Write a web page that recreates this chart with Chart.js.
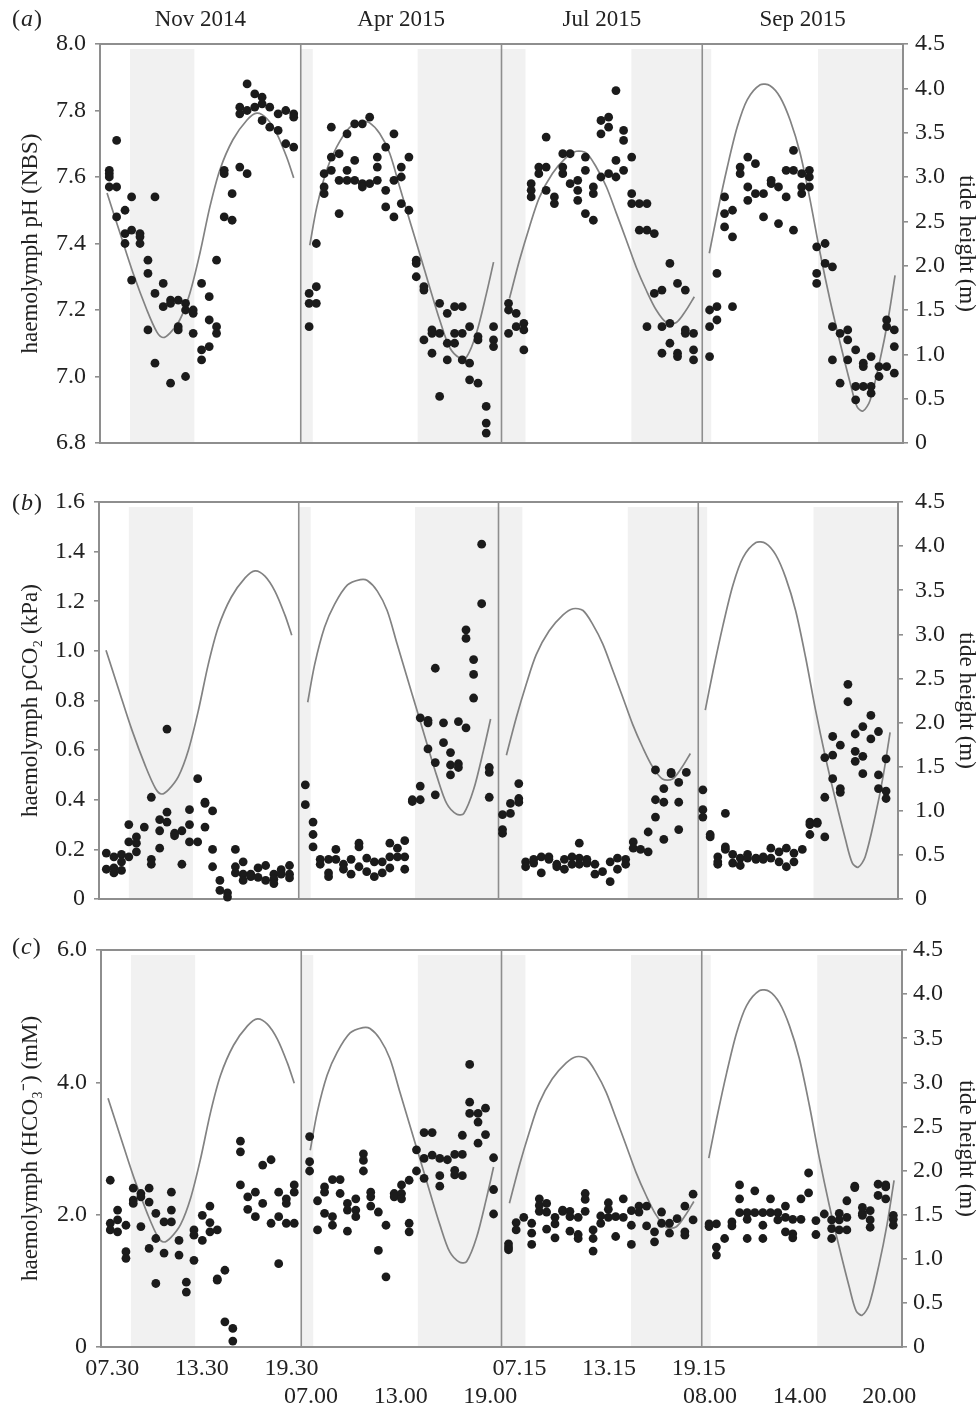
<!DOCTYPE html>
<html>
<head>
<meta charset="utf-8">
<script src="https://cdn.jsdelivr.net/npm/chart.js@4.4.1/dist/chart.umd.min.js"></script>
<style>
  body { margin: 0; background: #fff; }
  #wrap { position: relative; width: 980px; height: 1405px; }
  canvas { position: absolute; left: 0; }
</style>
</head>
<body>
<div id="wrap">
  <canvas id="panelA" width="980" height="475" style="top:0"></canvas>
  <canvas id="panelB" width="980" height="475" style="top:460px"></canvas>
  <canvas id="panelC" width="980" height="485" style="top:920px"></canvas>
</div>
<script>
// sampling days and clock time (h) at the left edge of each day's strip
const segments = ['Nov 2014', 'Apr 2015', 'Jul 2015', 'Sep 2015'];
const segStart = [6.75, 6.35, 6.05, 7.45];
const SPAN = 13.4;

const tickHours = [[7.5, 13.5, 19.5], [7, 13, 19], [7.25, 13.25, 19.25], [8, 14, 20]];
const tickLabels = [['07.30', '13.30', '19.30'], ['07.00', '13.00', '19.00'],
                    ['07.15', '13.15', '19.15'], ['08.00', '14.00', '20.00']];

// shaded periods, clock hours
const nightBands = [
  [[8.75, 13.05]],
  [[6.35, 7.15], [14.15, 19.75]],
  [[6.05, 7.65], [14.72, 19.45]],
  [[7.45, 8.05], [15.18, 20.85]]
];

// tide height (m): [time, height]
const tideNov = [[7.22,2.82],[8.08,2.37],[8.95,1.92],[9.88,1.50],[10.55,1.25],[10.95,1.19],[11.42,1.24],[12.08,1.39],[12.75,1.69],[13.42,2.14],[14.08,2.66],[14.75,3.08],[15.62,3.42],[16.55,3.64],[17.22,3.72],[17.88,3.66],[18.55,3.49],[19.22,3.22],[19.68,2.99]];
const tideApr = [[6.95,2.23],[7.42,2.66],[8.08,3.08],[8.75,3.34],[9.62,3.56],[10.48,3.62],[10.95,3.61],[11.62,3.49],[12.28,3.27],[12.95,2.89],[13.62,2.51],[14.28,2.14],[14.95,1.76],[15.62,1.39],[16.28,1.08],[16.95,0.96],[17.42,0.97],[18.08,1.24],[18.75,1.69],[19.22,2.04]];
const tideJul = [[6.58,1.63],[7.25,2.06],[7.92,2.44],[8.58,2.77],[9.45,3.04],[10.38,3.22],[11.05,3.29],[11.72,3.27],[12.38,3.11],[13.05,2.89],[13.72,2.59],[14.38,2.29],[15.05,1.98],[15.72,1.72],[16.38,1.50],[17.05,1.36],[17.72,1.36],[18.38,1.50],[18.92,1.65]];
const tideSep = [[7.92,2.14],[8.45,2.59],[9.12,3.11],[9.78,3.56],[10.45,3.87],[11.32,4.04],[11.98,4.03],[12.65,3.90],[13.32,3.64],[13.98,3.27],[14.65,2.74],[15.32,2.14],[15.98,1.61],[16.65,1.13],[17.32,0.68],[17.78,0.41],[18.18,0.36],[18.65,0.48],[19.32,0.94],[19.85,1.39],[20.32,1.89]];
const tides = [tideNov, tideApr, tideJul, tideSep];

// haemolymph values: [time, value, value, ...]
const phNov = [[7.37,7.62,7.61,7.60,7.57],[7.86,7.71,7.57,7.48],[8.42,7.50,7.43,7.40],[8.86,7.54,7.44,7.29],[9.42,7.43,7.42,7.40],[9.95,7.14,7.35,7.31],[10.42,7.54,7.25,7.04],[10.97,7.28,7.21],[11.46,7.23,7.22,6.98],[11.97,7.23,7.15,7.14],[12.46,7.22,7.20,7.00],[12.97,7.20,7.19,7.13],[13.53,7.28,7.08,7.05],[14.04,7.24,7.17,7.09],[14.53,7.35,7.15,7.13],[15.04,7.62,7.61,7.48],[15.57,7.55,7.47],[16.08,7.81,7.79,7.63],[16.57,7.88,7.80,7.61],[17.08,7.85,7.81],[17.57,7.84,7.82,7.77],[18.08,7.81,7.75],[18.64,7.79,7.74],[19.15,7.80,7.70],[19.68,7.79,7.78,7.69]];
const phApr = [[6.91,7.25,7.22,7.15],[7.39,7.40,7.27,7.22],[7.91,7.61,7.57,7.55],[8.39,7.75,7.66,7.62],[8.91,7.67,7.59,7.49],[9.44,7.73,7.62,7.59],[9.95,7.76,7.65,7.59],[10.46,7.76,7.58,7.57],[10.95,7.78,7.58],[11.46,7.66,7.63,7.59],[12.02,7.69,7.56,7.51],[12.57,7.73,7.59,7.48],[13.06,7.63,7.60,7.52],[13.57,7.66,7.50],[14.06,7.35,7.34,7.30],[14.57,7.27,7.26,7.11],[15.11,7.14,7.13,7.07],[15.62,7.22,7.13,6.94],[16.13,7.19,7.10,7.05],[16.62,7.21,7.13,7.10],[17.13,7.21,7.13,7.05],[17.62,7.15,7.04,6.99],[18.18,7.12,7.11,6.98],[18.73,6.91,6.86,6.83],[19.22,7.15,7.11,7.09]];
const phJul = [[6.52,7.22,7.20,7.13],[7.03,7.19,7.15],[7.54,7.16,7.14,7.08],[8.03,7.58,7.56,7.54],[8.54,7.63,7.61],[9.03,7.72,7.63,7.56],[9.58,7.54,7.52],[10.14,7.67,7.63,7.61],[10.63,7.67,7.58],[11.14,7.59,7.56,7.53],[11.65,7.66,7.62,7.49],[12.18,7.57,7.55,7.47],[12.69,7.77,7.73,7.60],[13.20,7.78,7.75,7.61],[13.69,7.86,7.65,7.60],[14.20,7.74,7.71,7.62],[14.74,7.66,7.55,7.52],[15.25,7.52,7.44],[15.76,7.52,7.44,7.15],[16.25,7.43,7.25],[16.76,7.26,7.15,7.07],[17.29,7.34,7.16,7.10],[17.80,7.28,7.07,7.06],[18.32,7.26,7.14,7.13],[18.87,7.13,7.08,7.05]];
const phSep = [[7.94,7.20,7.15,7.06],[8.43,7.31,7.21,7.17],[8.94,7.54,7.49,7.45],[9.47,7.50,7.42,7.21],[9.98,7.63,7.61],[10.49,7.66,7.57,7.53],[11.00,7.64,7.55],[11.54,7.55,7.48],[12.05,7.59,7.58],[12.54,7.57,7.46],[13.05,7.62,7.54],[13.54,7.68,7.62,7.44],[14.09,7.61,7.57,7.55],[14.60,7.62,7.60,7.57],[15.09,7.39,7.31,7.28],[15.65,7.40,7.34],[16.14,7.33,7.15,7.05],[16.65,7.13,6.98],[17.16,7.14,7.11,7.05],[17.69,7.08,6.97,6.93],[18.20,7.04,7.03,6.97],[18.72,7.06,6.97,6.95],[19.25,7.03,7.00],[19.76,7.17,7.15,7.03],[20.27,7.14,7.09,7.01]];

const pco2Nov = [[7.24,0.185,0.12],[7.75,0.17,0.125,0.105],[8.26,0.18,0.15,0.115],[8.75,0.30,0.23,0.17],[9.26,0.25,0.225,0.19],[9.79,0.29],[10.26,0.41,0.16,0.14],[10.82,0.32,0.275,0.205],[11.31,0.685,0.35,0.31],[11.82,0.265,0.255],[12.31,0.275,0.14],[12.82,0.36,0.30,0.23],[13.37,0.485,0.23],[13.86,0.39,0.385,0.29],[14.37,0.355,0.20,0.13],[14.86,0.075,0.035],[15.37,0.025,0.008],[15.90,0.20,0.13,0.105],[16.42,0.15,0.10,0.075],[16.93,0.10,0.09],[17.42,0.125,0.087],[17.93,0.135,0.075],[18.48,0.10,0.08,0.062],[18.97,0.118,0.10],[19.53,0.135,0.10,0.085]];
const pco2Apr = [[6.79,0.46,0.38],[7.31,0.31,0.26,0.21],[7.79,0.16,0.14],[8.35,0.16,0.105,0.09],[8.84,0.20,0.16],[9.35,0.14,0.12],[9.86,0.16,0.10],[10.39,0.225,0.21,0.13],[10.91,0.165,0.11],[11.42,0.15,0.09],[11.95,0.15,0.105],[12.46,0.225,0.17,0.125],[12.97,0.205,0.17],[13.46,0.235,0.17,0.12],[13.97,0.40,0.393],[14.50,0.73,0.455,0.40],[15.02,0.72,0.71,0.605],[15.51,0.93,0.55,0.42],[16.06,0.71,0.63],[16.53,0.59,0.54,0.50],[17.06,0.715,0.545,0.53],[17.57,1.085,1.05,0.69],[18.08,0.965,0.905,0.81],[18.62,1.43,1.19],[19.13,0.53,0.51,0.41]];
const pco2Jul = [[6.32,0.34,0.28,0.265],[6.85,0.385,0.345],[7.41,0.465,0.405,0.39],[7.87,0.15,0.13],[8.41,0.16,0.145],[8.92,0.17,0.105],[9.43,0.17,0.16],[9.96,0.14,0.13],[10.47,0.16,0.12],[10.98,0.17,0.14],[11.47,0.225,0.165,0.14],[11.98,0.16,0.145],[12.52,0.14,0.10],[13.03,0.11],[13.54,0.15,0.07],[14.03,0.165,0.12],[14.58,0.16,0.14],[15.09,0.23,0.205],[15.58,0.20],[16.09,0.27,0.19],[16.58,0.52,0.40,0.33],[17.14,0.445,0.39,0.24],[17.63,0.51,0.505],[18.14,0.47,0.39,0.28],[18.65,0.51]];
const pco2Sep = [[7.76,0.44,0.36,0.33],[8.25,0.26,0.25],[8.76,0.17,0.15,0.14],[9.27,0.345,0.21,0.20],[9.76,0.18,0.145],[10.27,0.165,0.135],[10.76,0.18,0.165],[11.32,0.165,0.16],[11.81,0.17,0.16],[12.32,0.205,0.165],[12.87,0.19,0.15],[13.36,0.205,0.13],[13.87,0.185,0.15],[14.43,0.20],[14.94,0.31,0.30,0.26],[15.43,0.31,0.305],[15.94,0.57,0.41,0.25],[16.47,0.655,0.58,0.485],[16.98,0.62,0.445,0.43],[17.49,0.865,0.795],[17.98,0.665,0.595,0.555],[18.49,0.695,0.575,0.505],[19.03,0.74,0.645],[19.54,0.675,0.50,0.445],[20.05,0.565,0.435,0.405]];

const hco3Nov = [[7.37,2.52,1.87,1.77],[7.86,2.07,1.92,1.74],[8.42,1.84,1.44,1.34],[8.91,2.40,2.22,2.17],[9.42,2.32,2.27,1.82],[9.97,2.40,2.19,1.49],[10.42,2.02,1.64,0.96],[10.97,1.89,1.42],[11.46,2.34,2.07,1.89],[11.97,1.61,1.39],[12.46,0.98,0.83],[12.97,1.77,1.69,1.31],[13.53,1.99,1.61],[14.04,2.13,1.88,1.74],[14.53,1.77,1.03,1.01],[15.04,1.16,0.38],[15.57,0.28,0.09],[16.08,3.11,2.95,2.45],[16.57,2.27,2.08],[17.08,2.34,1.97],[17.57,2.75,2.17],[18.13,2.83,1.87],[18.64,2.34,1.97,1.26],[19.15,2.24,2.17,1.87],[19.68,2.45,2.34,1.87]];
const hco3Apr = [[6.91,3.18,2.80,2.66],[7.44,2.21,1.77],[7.91,2.42,2.34,2.02],[8.44,2.53,1.97,1.84],[8.95,2.53,2.32],[9.44,2.17,2.07,1.75],[10.00,2.24,2.07,1.97],[10.51,2.92,2.82,2.66],[11.00,2.34,2.27,2.13],[11.51,2.04,1.46],[12.02,1.84,1.06],[12.57,2.32,2.27],[13.06,2.45,2.32,2.24],[13.57,2.52,1.87,1.74],[14.06,2.98,2.66],[14.57,3.24,2.85,2.55],[15.11,3.24,2.90],[15.62,2.85,2.59,2.43],[16.13,2.83],[16.62,2.91,2.67,2.60],[17.13,3.20,2.91,2.59],[17.62,4.27,3.70,3.53],[18.18,3.53,3.40,3.08],[18.68,3.61,3.21],[19.22,2.86,2.38,2.01]];
const hco3Jul = [[6.52,1.56,1.51,1.47],[7.03,1.88,1.77],[7.54,1.96],[8.07,1.87,1.72,1.55],[8.58,2.24,2.14,2.05],[9.07,2.17,2.04,1.78],[9.63,1.96,1.86,1.65],[10.14,2.07,2.05],[10.63,2.05,1.97,1.75],[11.18,1.96,1.70,1.64],[11.65,2.32,2.23,2.05],[12.18,1.77,1.64,1.45],[12.69,1.98,1.87],[13.20,2.18,2.08,1.96],[13.69,1.97,1.67],[14.20,2.24,1.96],[14.74,2.06,1.84,1.55],[15.25,2.13,2.04],[15.76,2.13,1.83],[16.29,1.74,1.59],[16.76,2.04,1.87],[17.29,1.87,1.72],[17.80,1.94],[18.32,2.13,1.74,1.69],[18.87,2.31,1.92]];
const hco3Sep = [[7.94,1.86,1.82],[8.43,1.86,1.51,1.39],[8.98,1.64],[9.47,1.89,1.83],[9.98,2.45,2.24,2.03],[10.49,2.03,1.93,1.64],[11.00,2.36,2.03],[11.54,2.03,1.84,1.64],[12.05,2.24,2.03],[12.54,2.03,1.92],[13.05,2.13,1.96,1.74],[13.54,1.93,1.71,1.65],[14.09,2.24,1.93],[14.60,2.63,2.33],[15.09,1.91,1.70],[15.65,2.01],[16.14,1.92,1.79,1.64],[16.65,2.02,1.92,1.77],[17.16,2.21,1.96,1.77],[17.69,2.43,2.41],[18.20,2.11,2.02,1.99],[18.72,2.06,1.92,1.81],[19.25,2.46,2.29],[19.76,2.45,2.42,2.24],[20.27,1.99,1.93,1.84]];

Chart.defaults.font.family = '"Liberation Serif", "Times New Roman", serif';
Chart.defaults.color = '#222';

const AXIS = '#8e8e8e';
const toX = (k, t) => k * SPAN + t - segStart[k];
const toPoints = (cols, k) => cols.flatMap(([t, ...vs]) => vs.map(v => ({ x: toX(k, t), y: v })));
const fmt = v => v === 0 ? '0' : v.toFixed(1);

const xTicks = tickHours.flatMap((hs, k) => hs.map(h => toX(k, h)));
const xTickText = tickLabels.flatMap((ls, k) => ls.map(l => k % 2 === 0 ? [l, ''] : ['', l]));

// shaded periods, day separators and the panel letter
const backdrop = {
  id: 'backdrop',
  beforeDraw(chart) {
    const { ctx, chartArea: a, scales: { x } } = chart;
    ctx.save();
    ctx.fillStyle = '#f1f1f1';
    nightBands.forEach((bands, k) => bands.forEach(([t0, t1]) => {
      const x0 = Math.max(a.left, x.getPixelForValue(toX(k, t0)));
      const x1 = Math.min(a.right, x.getPixelForValue(toX(k, t1)));
      ctx.fillRect(x0, a.top + 5, x1 - x0, a.bottom - a.top - 5);
    }));
    ctx.strokeStyle = AXIS;
    ctx.lineWidth = 1.6;
    for (let k = 1; k < segments.length; k++) {
      const px = x.getPixelForValue(k * SPAN);
      ctx.beginPath();
      ctx.moveTo(px, a.top);
      ctx.lineTo(px, a.bottom);
      ctx.stroke();
    }
    ctx.restore();
  },
  afterDraw(chart, args, opts) {
    const ctx = chart.ctx;
    ctx.save();
    ctx.fillStyle = '#222';
    ctx.textBaseline = 'middle';
    let x = 12;
    ctx.font = '24px "Liberation Serif"';
    ctx.fillText('(', x, opts.letterY);
    x += ctx.measureText('(').width + 1;
    ctx.font = 'italic 24px "Liberation Serif"';
    ctx.fillText(opts.letter, x, opts.letterY);
    x += ctx.measureText(opts.letter).width + 1;
    ctx.font = '24px "Liberation Serif"';
    ctx.fillText(')', x, opts.letterY);
    ctx.restore();
  }
};

function buildPanel(id, p) {
  const canvas = document.getElementById(id);
  const datasets = [{
    data: p.series.flatMap((cols, k) => toPoints(cols, k)),
    yAxisID: 'y',
    backgroundColor: '#1b1b1b',
    borderColor: '#1b1b1b',
    pointRadius: 4.4,
    pointBorderWidth: 0,
    clip: false
  }].concat(tides.map((s, k) => ({
    data: s.map(([t, h]) => ({ x: toX(k, t), y: h })),
    yAxisID: 'y2',
    showLine: true,
    pointRadius: 0,
    borderColor: '#828282',
    borderWidth: 1.7,
    tension: 0.3
  })));

  return new Chart(canvas, {
    type: 'scatter',
    data: { datasets },
    options: {
      responsive: false,
      animation: false,
      layout: { padding: 0 },
      plugins: {
        legend: { display: false },
        tooltip: { enabled: false },
        backdrop: { letter: p.letter, letterY: p.letterY }
      },
      scales: {
        x: {
          type: 'linear', position: 'bottom', min: 0, max: SPAN * segments.length,
          grid: { display: false, drawTicks: false },
          border: { color: AXIS, width: 2 },
          afterBuildTicks: s => { s.ticks = xTicks.map(v => ({ value: v })); },
          ticks: {
            display: p.showTimes, autoSkip: false, maxRotation: 0, padding: 7,
            font: { size: 24 }, callback: (v, i) => xTickText[i]
          },
          afterFit: s => { s.height = canvas.height - p.bottom; }
        },
        x2: {
          type: 'linear', position: 'top', min: 0, max: SPAN * segments.length,
          grid: { display: false, drawTicks: false },
          border: { color: AXIS, width: 2 },
          afterBuildTicks: s => { s.ticks = segments.map((_, k) => ({ value: k * SPAN + SPAN / 2 })); },
          ticks: {
            display: p.showMonths, autoSkip: false, maxRotation: 0, padding: 10,
            font: { size: 23 }, callback: (v, i) => segments[i]
          },
          afterFit: s => { s.height = p.top; }
        },
        y: {
          position: 'left', min: p.yMin, max: p.yMax,
          ticks: { stepSize: p.yStep, padding: 9, font: { size: 24 }, callback: fmt },
          grid: { drawOnChartArea: false, tickLength: 5, color: AXIS, lineWidth: 1.6 },
          border: { color: AXIS, width: 2 },
          title: { display: true, text: p.yTitle, font: { size: 23 }, padding: { top: 17, bottom: 0 } },
          afterFit: s => { s.width = p.left; }
        },
        y2: {
          position: 'right', min: 0, max: 4.5,
          ticks: { stepSize: 0.5, padding: p.rightPad, font: { size: 24 }, callback: fmt },
          grid: { drawOnChartArea: false, tickLength: 5, color: AXIS, lineWidth: 1.6 },
          border: { color: AXIS, width: 2 },
          title: { display: true, text: 'tide height (m)', font: { size: 23 }, padding: { top: 0, bottom: 0 } },
          afterFit: s => { s.width = canvas.width - p.right; }
        }
      }
    },
    plugins: [backdrop]
  });
}

buildPanel('panelA', {
  series: [phNov, phApr, phJul, phSep], letter: 'a', letterY: 20,
  yMin: 6.8, yMax: 8.0, yStep: 0.2, yTitle: 'haemolymph pH (NBS)',
  top: 44, bottom: 443, left: 100, right: 903, rightPad: 7,
  showMonths: true, showTimes: false
});
buildPanel('panelB', {
  series: [pco2Nov, pco2Apr, pco2Jul, pco2Sep], letter: 'b', letterY: 44,
  yMin: 0, yMax: 1.6, yStep: 0.2, yTitle: 'haemolymph pCO₂ (kPa)',
  top: 42, bottom: 439, left: 99, right: 898, rightPad: 12,
  showMonths: false, showTimes: false
});
buildPanel('panelC', {
  series: [hco3Nov, hco3Apr, hco3Jul, hco3Sep], letter: 'c', letterY: 28,
  yMin: 0, yMax: 6, yStep: 2, yTitle: 'haemolymph (HCO₃⁻) (mM)',
  top: 30, bottom: 427, left: 101, right: 902, rightPad: 6,
  showMonths: false, showTimes: true
});
</script>
</body>
</html>
